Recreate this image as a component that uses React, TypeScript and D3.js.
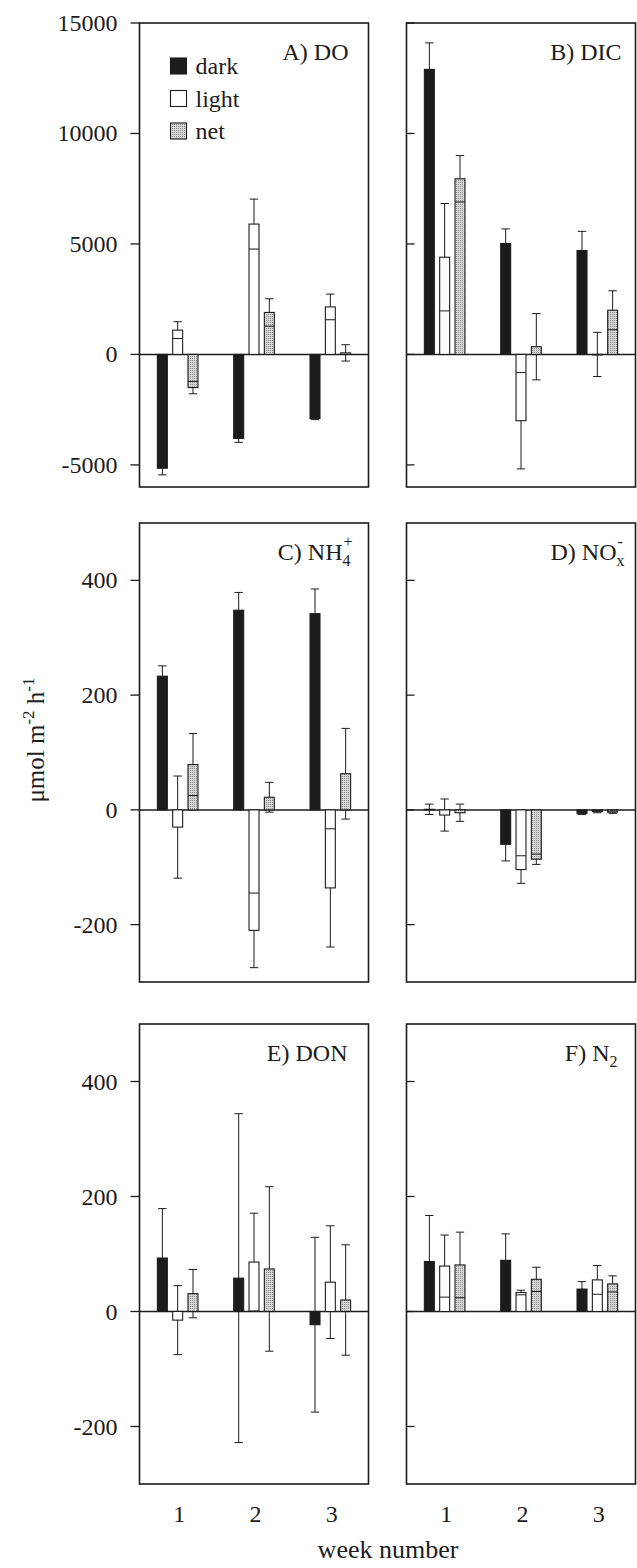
import * as d3 from "d3";

const weeks = ["1", "2", "3"];
const series = ["dark", "light", "net"];

// rows = dark, light, net ; columns = week 1..3
const doMeans = [[-5150, -3800, -2900], [1100, 5900, 2150], [-1500, 1900, 70]];
const doErrs = [[300, 180, 50], [380, 1130, 580], [280, 620, 370]];
const dicMeans = [[12900, 5020, 4700], [4400, -3000, 0], [7950, 350, 2000]];
const dicErrs = [[1200, 660, 870], [2430, 2180, 1000], [1050, 1500, 880]];
const nh4Means = [[233, 348, 342], [-30, -210, -136], [79, 22, 63]];
const nh4Errs = [[18, 31, 43], [89, 65, 103], [54, 26, 79]];
const noxMeans = [[1, -60, -6], [-9, -104, -3], [-5, -86, -4]];
const noxErrs = [[9, 29, 2], [28, 24, 2], [15, 9, 2]];
const donMeans = [[93, 58, -23], [-15, 86, 51], [31, 74, 20]];
const donErrs = [[86, 286, 152], [60, 85, 98], [42, 143, 96]];
const n2Means = [[87, 89, 39], [79, 33, 55], [81, 56, 48]];
const n2Errs = [[80, 46, 13], [54, 4, 25], [57, 21, 14]];

const bigDomain = [-6000, 15000];
const bigTicks = [-5000, 0, 5000, 10000, 15000];
const smallDomain = [-300, 500];
const smallTicks = [-200, 0, 200, 400];

const FONT = "'Liberation Serif', 'Times New Roman', serif";
const INK = "#1c1c1c";

const cols = [[139.5, 368.5], [406.5, 635.5]];
const rows = [[23, 487], [523, 982], [1024, 1484]];

type Title = { main: string; sub?: string; sup?: string };

const panels = [
  { title: { main: "A) DO" }, means: doMeans, errs: doErrs, domain: bigDomain, ticks: bigTicks, col: 0, row: 0, titlePad: 20, legend: true },
  { title: { main: "B) DIC" }, means: dicMeans, errs: dicErrs, domain: bigDomain, ticks: bigTicks, col: 1, row: 0, titlePad: 14 },
  { title: { main: "C) NH", sub: "4", sup: "+" }, means: nh4Means, errs: nh4Errs, domain: smallDomain, ticks: smallTicks, col: 0, row: 1, titlePad: 16 },
  { title: { main: "D) NO", sub: "x", sup: "-" }, means: noxMeans, errs: noxErrs, domain: smallDomain, ticks: smallTicks, col: 1, row: 1, titlePad: 11 },
  { title: { main: "E) DON" }, means: donMeans, errs: donErrs, domain: smallDomain, ticks: smallTicks, col: 0, row: 2, titlePad: 21 },
  { title: { main: "F) N", sub: "2" }, means: n2Means, errs: n2Errs, domain: smallDomain, ticks: smallTicks, col: 1, row: 2, titlePad: 18 },
];

const fills: Record<string, string> = { dark: INK, light: "#ffffff", net: "url(#stipple)" };

function TitleText({ t, x, y }: { t: Title; x: number; y: number }) {
  return (
    <text x={x} y={y} textAnchor="end" fontFamily={FONT} fontSize={24} fill={INK}>
      {t.main}
      {t.sub && (
        <tspan fontSize={16} dy={6}>
          {t.sub}
        </tspan>
      )}
      {t.sup && (
        <tspan fontSize={16} dx={t.sub ? -7 : 0} dy={t.sub ? -19 : -10}>
          {t.sup}
        </tspan>
      )}
    </text>
  );
}

function Panel({ p }: { p: (typeof panels)[number] }) {
  const [x0, x1] = cols[p.col];
  const [y0, y1] = rows[p.row];
  const x = d3.scaleBand().domain(weeks).range([x0, x1]);
  const inner = d3.scaleBand().domain(series).range([-20.3, 20.3]).paddingInner(0.35);
  const y = d3.scaleLinear().domain(p.domain).range([y1, y0]);
  const bw = inner.bandwidth();
  const left = p.col === 0;

  const marks: JSX.Element[] = [];
  series.forEach((s, si) => {
    weeks.forEach((w, wi) => {
      const v = p.means[si][wi];
      const e = p.errs[si][wi];
      const cx = x(w)! + x.bandwidth() / 2 + inner(s)! + bw / 2;
      const bx = cx - bw / 2;
      const top = Math.max(0, v);
      const bot = Math.min(0, v);
      marks.push(
        <rect
          key={`b${s}${w}`}
          x={bx}
          y={y(top)}
          width={bw}
          height={Math.max(0.5, y(bot) - y(top))}
          fill={fills[s]}
          stroke={INK}
          strokeWidth={1.1}
        />
      );
      [v + e, v - e].forEach((end, k) => {
        if (end > top || end < bot) {
          const from = end > top ? top : bot;
          marks.push(
            <g key={`e${s}${w}${k}`} stroke={INK} strokeWidth={1}>
              <line x1={cx} x2={cx} y1={y(from)} y2={y(end)} />
              <line x1={cx - 4.2} x2={cx + 4.2} y1={y(end)} y2={y(end)} />
            </g>
          );
        } else if (s !== "dark") {
          marks.push(
            <line key={`i${s}${w}${k}`} x1={bx} x2={bx + bw} y1={y(end)} y2={y(end)} stroke={INK} strokeWidth={1} />
          );
        }
      });
    });
  });

  return (
    <g>
      {p.ticks.map((t) => (
        <g key={t}>
          <line
            x1={left ? x0 - 9 : x0}
            x2={left ? x0 : x0 + 8}
            y1={y(t)}
            y2={y(t)}
            stroke={INK}
            strokeWidth={1.3}
          />
          {left && (
            <text x={x0 - 22} y={y(t) + 8} textAnchor="end" fontFamily={FONT} fontSize={24} fill={INK}>
              {t}
            </text>
          )}
        </g>
      ))}
      <line x1={x0} x2={x1} y1={y(0)} y2={y(0)} stroke={INK} strokeWidth={1.5} />
      {marks}
      <rect x={x0} y={y0} width={x1 - x0} height={y1 - y0} fill="none" stroke={INK} strokeWidth={1.6} />
      <TitleText t={p.title} x={x1 - p.titlePad} y={y0 + 37} />
      {p.legend &&
        series.map((s, i) => (
          <g key={s}>
            <rect x={x0 + 31} y={y0 + 35 + i * 32.5} width={16} height={16} fill={fills[s]} stroke={INK} strokeWidth={1.1} />
            <text x={x0 + 56} y={y0 + 51 + i * 32.5} fontFamily={FONT} fontSize={24} fill={INK}>
              {s}
            </text>
          </g>
        ))}
      {p.row === 2 &&
        weeks.map((w) => (
          <text key={w} x={x(w)! + x.bandwidth() / 2 + 1.5} y={1522} textAnchor="middle" fontFamily={FONT} fontSize={24} fill={INK}>
            {w}
          </text>
        ))}
    </g>
  );
}

export default function App() {
  return (
    <svg width={637} height={1568} style={{ position: "absolute", left: 0, top: 0, background: "#fff" }}>
      <defs>
        <pattern id="stipple" width={2} height={2} patternUnits="userSpaceOnUse">
          <rect width={2} height={2} fill="#d6d6d6" />
          <rect x={0} y={0} width={1} height={1} fill="#8a8a8a" />
        </pattern>
      </defs>
      <rect width={637} height={1568} fill="#fff" />
      {panels.map((p, i) => (
        <Panel key={i} p={p} />
      ))}
      <text transform="translate(44,740) rotate(-90)" textAnchor="middle" fontFamily={FONT} fontSize={25} fill={INK}>
        μmol m
        <tspan fontSize={17} dy={-10}>-2</tspan>
        <tspan fontSize={25} dy={10}> h</tspan>
        <tspan fontSize={17} dy={-10}>-1</tspan>
      </text>
      <text x={388} y={1558} textAnchor="middle" fontFamily={FONT} fontSize={26} fill={INK}>
        week number
      </text>
    </svg>
  );
}
